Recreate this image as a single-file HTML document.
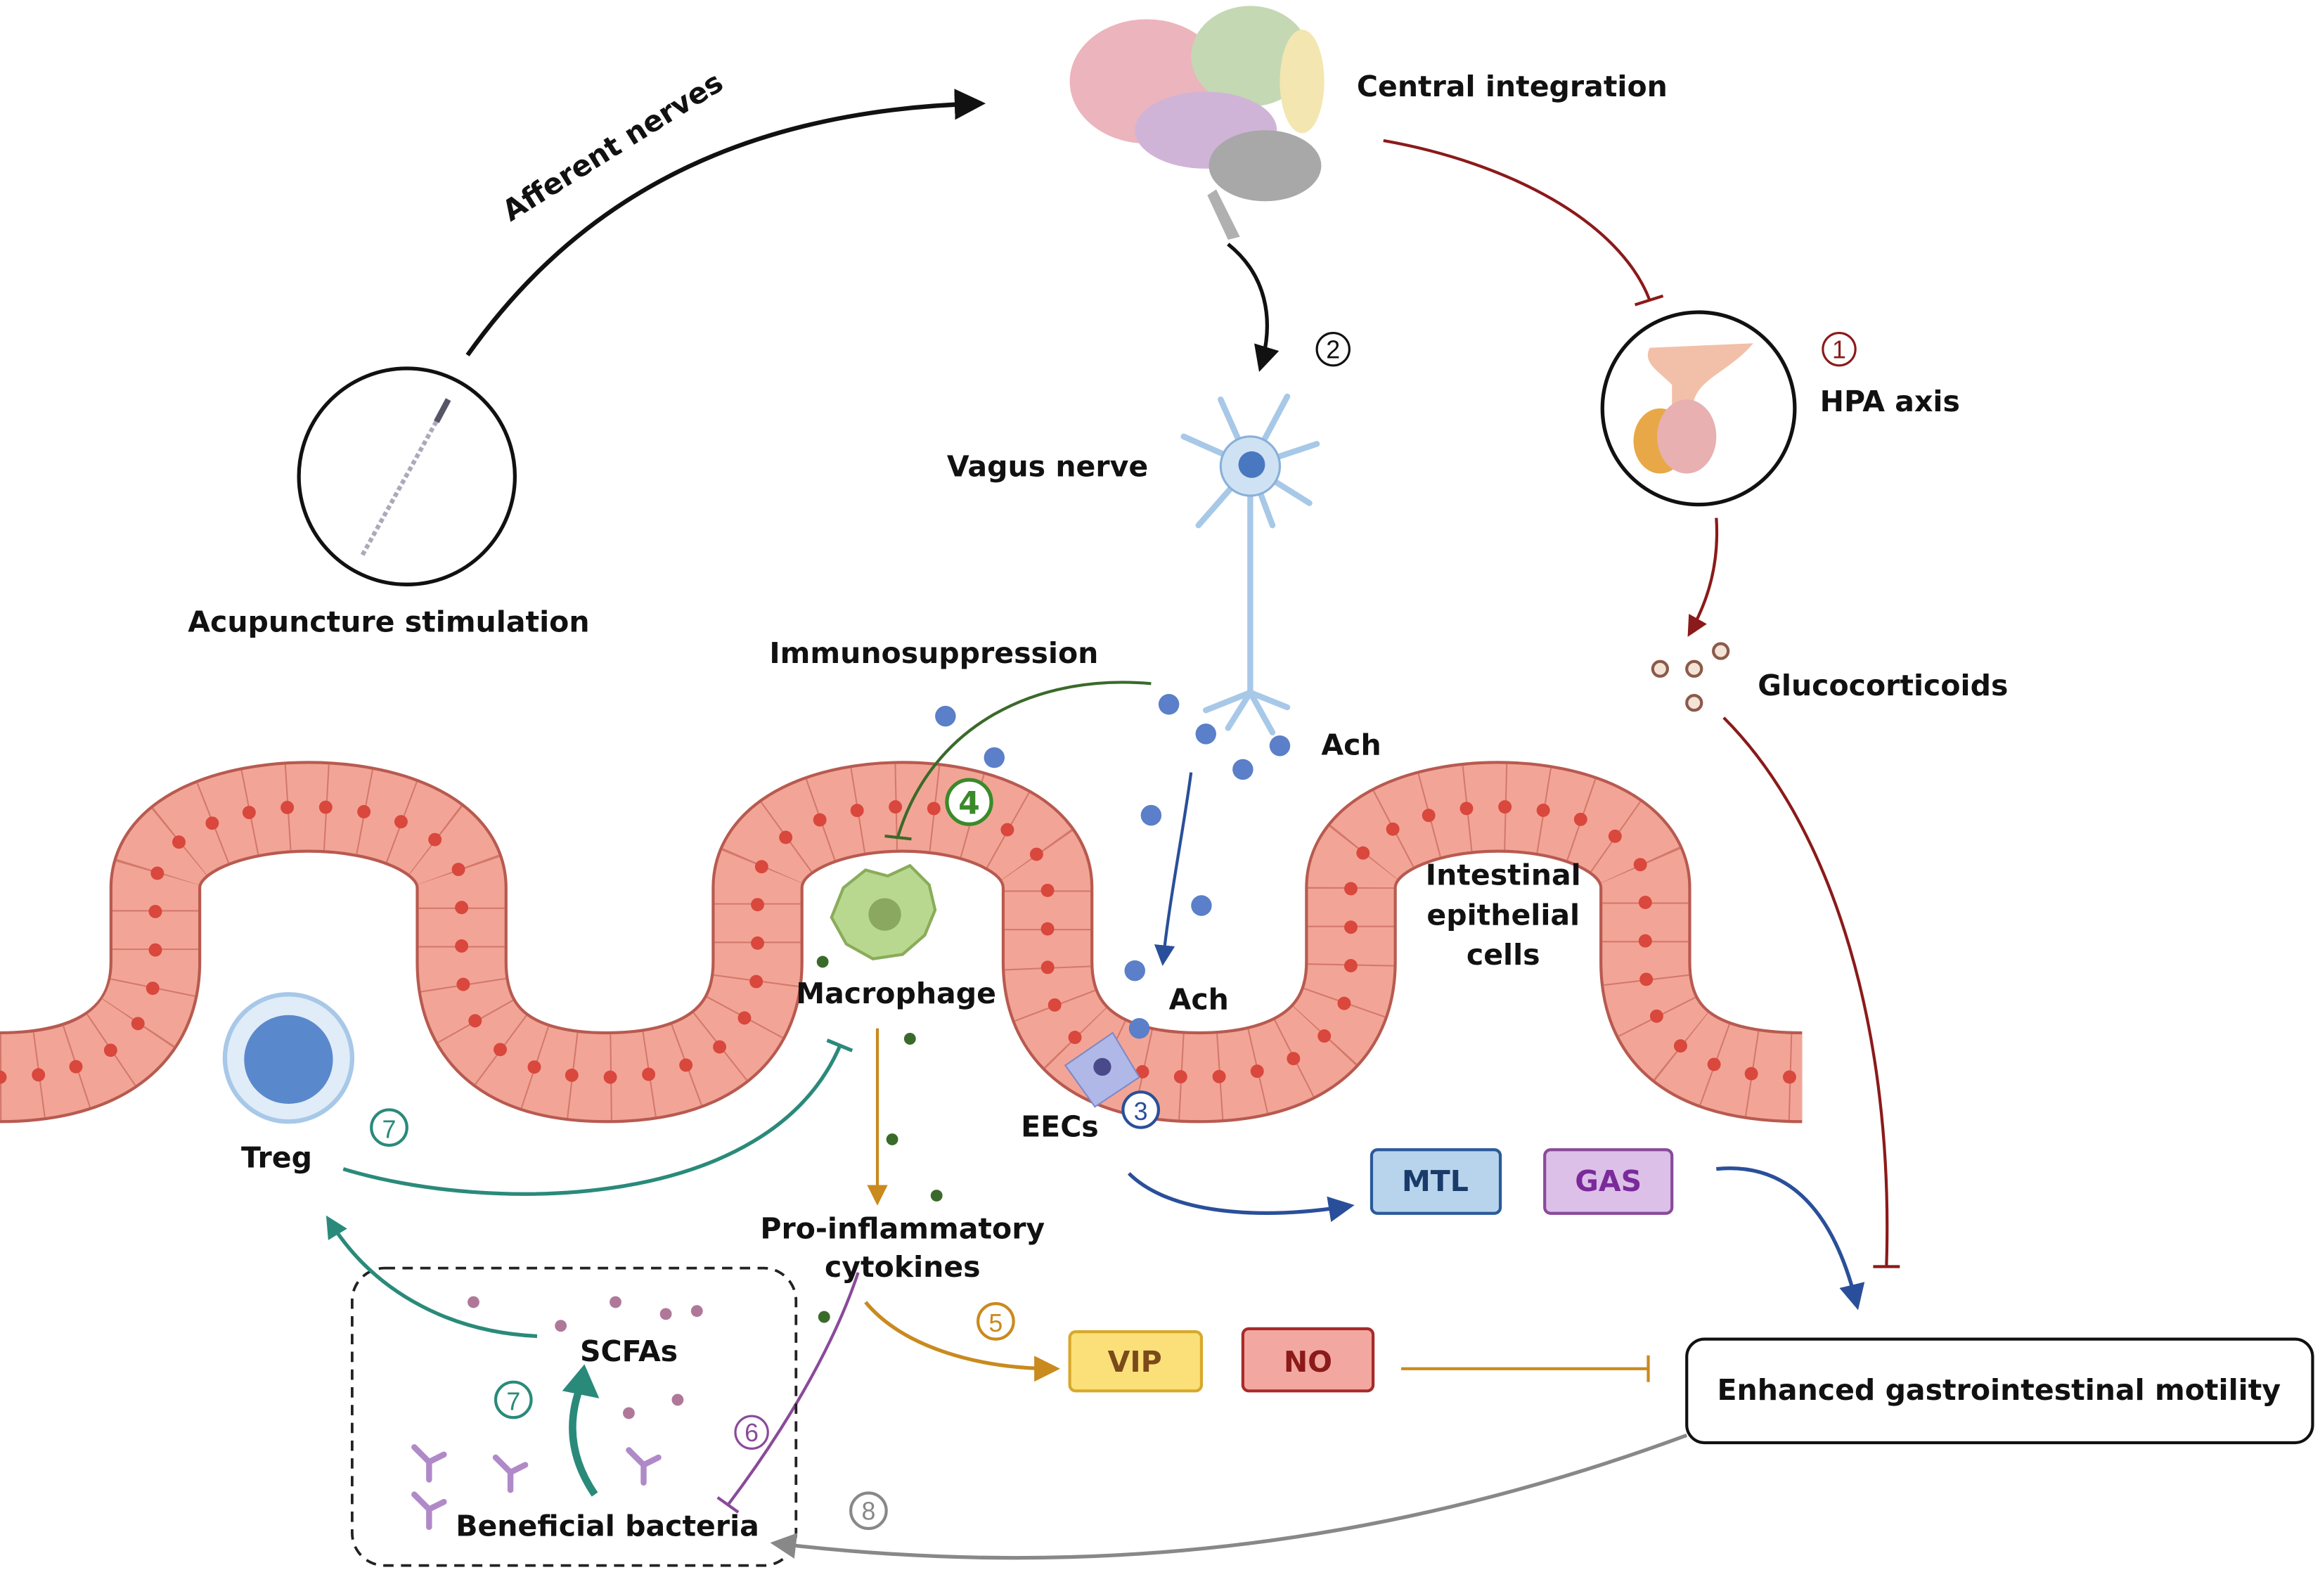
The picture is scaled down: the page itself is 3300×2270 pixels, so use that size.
<!DOCTYPE html>
<html><head><meta charset="utf-8"><style>
html,body{margin:0;padding:0;background:#fff}
svg{display:block}
text{font-family:"DejaVu Sans","Liberation Sans",sans-serif;font-weight:bold;font-size:19.5px;fill:#111}
.n{font-family:"Liberation Sans",sans-serif;font-weight:normal;font-size:17px}
</style></head><body>
<svg width="3300" height="2270" viewBox="0 0 1568 1078.6" preserveAspectRatio="none" xmlns="http://www.w3.org/2000/svg">
<defs>
<marker id="ak" viewBox="0 0 10 10" refX="8" refY="5" markerWidth="7" markerHeight="7" orient="auto"><path d="M0,0L10,5L0,10z" fill="#111"/></marker>
<marker id="ar" viewBox="0 0 10 10" refX="8" refY="5" markerWidth="7" markerHeight="7" orient="auto"><path d="M0,0L10,5L0,10z" fill="#8b1a1a"/></marker>
<marker id="ab" viewBox="0 0 10 10" refX="8" refY="5" markerWidth="7" markerHeight="7" orient="auto"><path d="M0,0L10,5L0,10z" fill="#2a4f9a"/></marker>
<marker id="ao" viewBox="0 0 10 10" refX="8" refY="5" markerWidth="7" markerHeight="7" orient="auto"><path d="M0,0L10,5L0,10z" fill="#c98a1e"/></marker>
<marker id="at" viewBox="0 0 10 10" refX="8" refY="5" markerWidth="6" markerHeight="6" orient="auto"><path d="M0,0L10,5L0,10z" fill="#2a8a7a"/></marker>
<marker id="ag" viewBox="0 0 10 10" refX="8" refY="5" markerWidth="7" markerHeight="7" orient="auto"><path d="M0,0L10,5L0,10z" fill="#888"/></marker>
</defs>

<g fill="none">
<path d="M0,728 C60,728 105,705 105,650 L105,600 C105,527 312,527 312,600 L312,650 C312,705 350,728 410,728 C470,728 512,705 512,650 L512,600 C512,527 708,527 708,600 L708,650 C708,705 750,728 810,728 C870,728 913,705 913,650 L913,600 C913,527 1112,527 1112,600 L1112,650 C1112,705 1150,728 1218,728" stroke="#b85a50" stroke-width="62"/>
<path d="M0,728 C60,728 105,705 105,650 L105,600 C105,527 312,527 312,600 L312,650 C312,705 350,728 410,728 C470,728 512,705 512,650 L512,600 C512,527 708,527 708,600 L708,650 C708,705 750,728 810,728 C870,728 913,705 913,650 L913,600 C913,527 1112,527 1112,600 L1112,650 C1112,705 1150,728 1218,728" stroke="#f2a596" stroke-width="58"/>
<path d="M0,728 C60,728 105,705 105,650 L105,600 C105,527 312,527 312,600 L312,650 C312,705 350,728 410,728 C470,728 512,705 512,650 L512,600 C512,527 708,527 708,600 L708,650 C708,705 750,728 810,728 C870,728 913,705 913,650 L913,600 C913,527 1112,527 1112,600 L1112,650 C1112,705 1150,728 1218,728" stroke="#d4786c" stroke-width="58" stroke-dasharray="1 25"/>
<path d="M0,728 C60,728 105,705 105,650 L105,600 C105,527 312,527 312,600 L312,650 C312,705 350,728 410,728 C470,728 512,705 512,650 L512,600 C512,527 708,527 708,600 L708,650 C708,705 750,728 810,728 C870,728 913,705 913,650 L913,600 C913,527 1112,527 1112,600 L1112,650 C1112,705 1150,728 1218,728" stroke="#d9473d" stroke-width="9" stroke-linecap="round" stroke-dasharray="0 26"/>
</g>

<g>
<ellipse cx="775" cy="55" rx="52" ry="42" fill="#ecb4bc"/>
<ellipse cx="845" cy="38" rx="40" ry="34" fill="#c4d8b4"/>
<ellipse cx="815" cy="88" rx="48" ry="26" fill="#d0b4d8"/>
<ellipse cx="880" cy="55" rx="15" ry="35" fill="#f4e6b0"/>
<ellipse cx="855" cy="112" rx="38" ry="24" fill="#a8a8a8"/>
<path d="M822,128 L838,160 L830,162 L816,132z" fill="#b0b0b0"/>
</g>
<text x="917" y="65">Central integration</text>

<path d="M316,240 C380,150 480,75 662,70" fill="none" stroke="#111" stroke-width="3" marker-end="url(#ak)"/>
<text x="345" y="150" transform="rotate(-32 345 150)">Afferent nerves</text>

<circle cx="275" cy="322" r="73" fill="#fff" stroke="#111" stroke-width="2.5"/>
<line x1="245" y1="375" x2="302" y2="272" stroke="#aab" stroke-width="3" stroke-dasharray="3 2"/>
<line x1="295" y1="285" x2="303" y2="270" stroke="#556" stroke-width="4"/>
<text x="127" y="427">Acupuncture stimulation</text>

<path d="M935,95 C1020,110 1095,150 1115,203" fill="none" stroke="#8b1a1a" stroke-width="2"/>
<line x1="1105" y1="206" x2="1124" y2="200" stroke="#8b1a1a" stroke-width="2"/>
<circle cx="1148" cy="276" r="65" fill="#fff" stroke="#111" stroke-width="2.5"/>
<path d="M1115,235 L1185,232 C1170,250 1150,255 1145,270 L1140,310 L1130,315 L1130,260 C1120,250 1110,245 1115,235z" fill="#f2c0a8"/>
<ellipse cx="1122" cy="298" rx="18" ry="22" fill="#e8a848"/>
<ellipse cx="1140" cy="295" rx="20" ry="25" fill="#e8b0b0"/>
<circle cx="1243" cy="236" r="11" fill="none" stroke="#8b1a1a" stroke-width="1.5"/><text x="1243" y="242" class="n" text-anchor="middle" style="fill:#8b1a1a">1</text>
<text x="1230" y="278">HPA axis</text>
<path d="M1160,350 C1162,380 1155,405 1142,428" fill="none" stroke="#8b1a1a" stroke-width="2" marker-end="url(#ar)"/>
<g fill="#f4e4d8" stroke="#8b5a4a" stroke-width="2"><circle cx="1122" cy="452" r="5"/><circle cx="1145" cy="452" r="5"/><circle cx="1163" cy="440" r="5"/><circle cx="1145" cy="475" r="5"/></g>
<text x="1188" y="470">Glucocorticoids</text>
<path d="M1165,485 C1240,560 1280,700 1275,855" fill="none" stroke="#8b1a1a" stroke-width="2"/>
<line x1="1266" y1="856" x2="1284" y2="856" stroke="#8b1a1a" stroke-width="2"/>

<path d="M830,165 C855,185 862,215 852,248" fill="none" stroke="#111" stroke-width="2.5" marker-end="url(#ak)"/>
<circle cx="901" cy="236" r="11" fill="none" stroke="#111" stroke-width="1.5"/><text x="901" y="242" class="n" text-anchor="middle">2</text>
<g stroke="#a8c8e8" stroke-width="4" fill="none" stroke-linecap="round">
<path d="M845,315 L800,295 M845,315 L825,270 M845,315 L870,268 M845,315 L890,300 M845,315 L885,340 M845,315 L810,355 M845,315 L860,355"/>
<path d="M845,330 L845,468 M845,468 L815,480 M845,468 L830,492 M845,468 L860,495 M845,468 L870,478"/>
</g>
<circle cx="845" cy="315" r="20" fill="#cfe2f4" stroke="#8ab0d8" stroke-width="1.5"/>
<circle cx="846" cy="314" r="9" fill="#4a78c0"/>
<text x="640" y="322">Vagus nerve</text>

<g fill="#5b7fc8"><circle cx="639" cy="484" r="7"/><circle cx="672" cy="512" r="7"/><circle cx="790" cy="476" r="7"/><circle cx="815" cy="496" r="7"/><circle cx="865" cy="504" r="7"/><circle cx="840" cy="520" r="7"/><circle cx="778" cy="551" r="7"/><circle cx="812" cy="612" r="7"/><circle cx="767" cy="656" r="7"/><circle cx="770" cy="695" r="7"/></g>
<text x="893" y="510">Ach</text>
<text x="790" y="682">Ach</text>
<path d="M805,522 C800,560 790,610 786,650" fill="none" stroke="#2a4f9a" stroke-width="2" marker-end="url(#ab)"/>

<text x="520" y="448">Immunosuppression</text>
<path d="M778,462 C700,455 630,490 607,565" fill="none" stroke="#3a6a2a" stroke-width="2"/>
<line x1="598" y1="565" x2="616" y2="567" stroke="#3a6a2a" stroke-width="2"/>
<circle cx="655" cy="542" r="15" fill="#fff" stroke="#3a8a2a" stroke-width="2.5"/><text x="655" y="550" text-anchor="middle" style="fill:#3a8a2a;font-size:21px">4</text>

<path d="M570,600 L585,588 L600,592 L615,585 L628,598 L632,615 L625,632 L610,645 L590,648 L572,638 L562,620z" fill="#b8d890" stroke="#8aac5a" stroke-width="2"/>
<circle cx="598" cy="618" r="11" fill="#8aa860"/>
<text x="538" y="678">Macrophage</text>
<g fill="#3a6a2a"><circle cx="556" cy="650" r="4"/><circle cx="615" cy="702" r="4"/><circle cx="603" cy="770" r="4"/><circle cx="633" cy="808" r="4"/><circle cx="557" cy="890" r="4"/></g>

<path d="M720,720 L752,698 L770,728 L740,748z" fill="#b0b8e8" stroke="#8088c8"/>
<circle cx="745" cy="721" r="6" fill="#4a4a8a"/>
<text x="690" y="768">EECs</text>
<circle cx="771" cy="750" r="12" fill="#fff" stroke="#2a4f9a" stroke-width="2"/><text x="771" y="757" class="n" text-anchor="middle" style="fill:#2a4f9a">3</text>

<text x="1016" y="598" text-anchor="middle">Intestinal</text>
<text x="1016" y="625" text-anchor="middle">epithelial</text>
<text x="1016" y="652" text-anchor="middle">cells</text>

<circle cx="195" cy="715" r="43" fill="#e0ecf8" stroke="#a8c8e8" stroke-width="3"/>
<circle cx="195" cy="716" r="30" fill="#5a88cc"/>
<text x="163" y="789">Treg</text>
<circle cx="263" cy="762" r="12" fill="#fff" stroke="#2a8a7a" stroke-width="2"/><text x="263" y="769" class="n" text-anchor="middle" style="fill:#2a8a7a">7</text>
<path d="M232,790 C330,820 520,820 568,706" fill="none" stroke="#2a8a7a" stroke-width="2.5"/>
<line x1="559" y1="703" x2="576" y2="710" stroke="#2a8a7a" stroke-width="2.5"/>

<line x1="593" y1="695" x2="593" y2="812" stroke="#c98a1e" stroke-width="2" marker-end="url(#ao)"/>
<text x="610" y="837" text-anchor="middle">Pro-inflammatory</text>
<text x="610" y="863" text-anchor="middle">cytokines</text>

<path d="M763,793 C790,820 850,825 912,815" fill="none" stroke="#2a4f9a" stroke-width="2.5" marker-end="url(#ab)"/>
<rect x="927" y="777" width="87" height="43" rx="4" fill="#b8d4ec" stroke="#2a5a9a" stroke-width="2"/>
<text x="970" y="805" text-anchor="middle" style="fill:#1a3a6a">MTL</text>
<rect x="1044" y="777" width="86" height="43" rx="4" fill="#dcc0e8" stroke="#8a4a9a" stroke-width="2"/>
<text x="1087" y="805" text-anchor="middle" style="fill:#7a2a9a">GAS</text>
<path d="M1160,790 C1210,785 1240,820 1255,882" fill="none" stroke="#2a4f9a" stroke-width="2.5" marker-end="url(#ab)"/>

<rect x="1140" y="905" width="423" height="70" rx="12" fill="#fff" stroke="#111" stroke-width="2"/>
<text x="1351" y="946" text-anchor="middle">Enhanced gastrointestinal motility</text>

<path d="M585,880 C610,910 660,925 713,925" fill="none" stroke="#c98a1e" stroke-width="2.5" marker-end="url(#ao)"/>
<circle cx="673" cy="893" r="12" fill="#fff" stroke="#c98a1e" stroke-width="2"/><text x="673" y="900" class="n" text-anchor="middle" style="fill:#c98a1e">5</text>
<rect x="723" y="900" width="89" height="40" rx="4" fill="#fbe07a" stroke="#d8a82a" stroke-width="2"/>
<text x="767" y="927" text-anchor="middle" style="fill:#7a4a1a">VIP</text>
<rect x="840" y="898" width="88" height="42" rx="4" fill="#f2a8a0" stroke="#a82a2a" stroke-width="2"/>
<text x="884" y="927" text-anchor="middle" style="fill:#8b1a1a">NO</text>
<line x1="947" y1="925" x2="1114" y2="925" stroke="#c98a1e" stroke-width="2"/>
<line x1="1114" y1="916" x2="1114" y2="934" stroke="#c98a1e" stroke-width="2"/>

<path d="M580,860 C560,920 520,980 492,1017" fill="none" stroke="#8a4a9a" stroke-width="2"/>
<line x1="485" y1="1012" x2="499" y2="1022" stroke="#8a4a9a" stroke-width="2"/>
<circle cx="508" cy="968" r="11" fill="#fff" stroke="#8a4a9a" stroke-width="1.5"/><text x="508" y="974" class="n" text-anchor="middle" style="fill:#8a4a9a">6</text>

<rect x="238" y="857" width="300" height="201" rx="22" fill="none" stroke="#222" stroke-width="1.8" stroke-dasharray="7 5"/>
<g fill="#b07898"><circle cx="320" cy="880" r="4"/><circle cx="379" cy="896" r="4"/><circle cx="416" cy="880" r="4"/><circle cx="450" cy="888" r="4"/><circle cx="471" cy="886" r="4"/><circle cx="425" cy="955" r="4"/><circle cx="458" cy="946" r="4"/></g>
<text x="392" y="920">SCFAs</text>
<path d="M363,903 C300,900 250,870 222,824" fill="none" stroke="#2a8a7a" stroke-width="2.5" marker-end="url(#at)"/>
<circle cx="347" cy="946" r="12" fill="#fff" stroke="#2a8a7a" stroke-width="2"/><text x="347" y="953" class="n" text-anchor="middle" style="fill:#2a8a7a">7</text>
<path d="M402,1010 C385,985 383,960 393,935" fill="none" stroke="#2a8a7a" stroke-width="5"/>
<path d="M380,940 L395,922 L405,945z" fill="#2a8a7a"/>
<g stroke="#b08ac8" stroke-width="4" fill="none" stroke-linecap="round">
<path d="M290,988 L290,1000 M290,988 L280,978 M290,988 L300,983"/>
<path d="M345,995 L345,1007 M345,995 L335,985 M345,995 L355,990"/>
<path d="M435,990 L435,1002 M435,990 L425,980 M435,990 L445,985"/>
<path d="M290,1020 L290,1032 M290,1020 L280,1010 M290,1020 L300,1015"/>
</g>
<text x="308" y="1038">Beneficial bacteria</text>

<path d="M1140,970 C950,1040 750,1070 524,1043" fill="none" stroke="#888" stroke-width="2.5" marker-end="url(#ag)"/>
<circle cx="587" cy="1021" r="12" fill="#fff" stroke="#888" stroke-width="2"/><text x="587" y="1027" class="n" text-anchor="middle" style="fill:#888">8</text>
</svg>
</body></html>
